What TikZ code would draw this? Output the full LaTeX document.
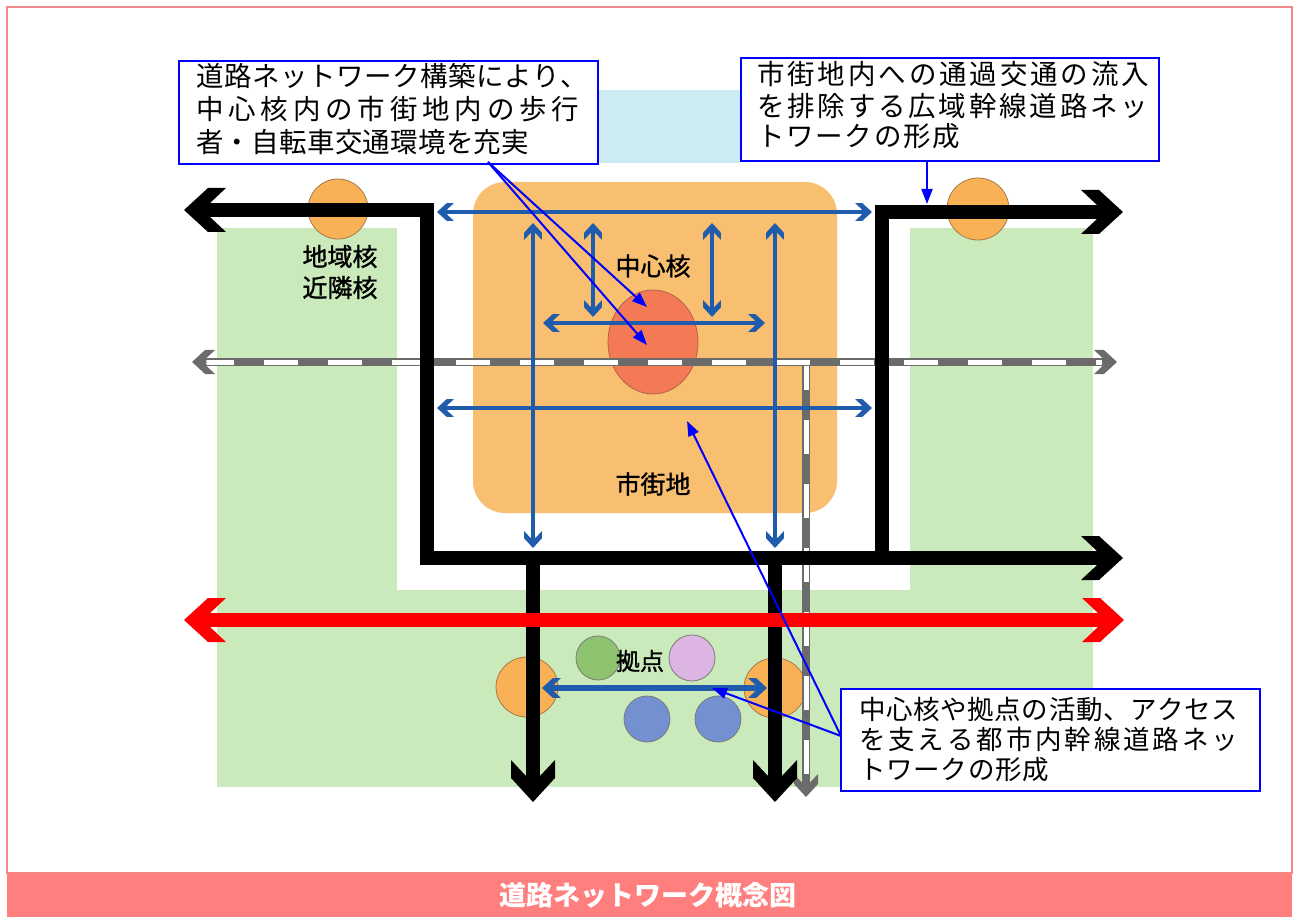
\documentclass[tikz,border=0pt]{standalone}
\usepackage{fontspec}
\setmainfont{Noto Sans CJK JP}
\usetikzlibrary{arrows.meta}
\definecolor{framec}{HTML}{F08A8A}
\definecolor{bandc}{HTML}{FF7F7F}
\definecolor{skyb}{HTML}{CCEBF3}
\definecolor{grn}{HTML}{CBEABB}
\definecolor{orng}{HTML}{F9BF71}
\definecolor{coreR}{HTML}{F47A55}
\definecolor{coreO}{HTML}{B0604A}
\definecolor{nodeO}{HTML}{F8B255}
\definecolor{nodeOl}{HTML}{A87848}
\definecolor{arrB}{HTML}{1F5CAB}
\definecolor{callB}{HTML}{0000FF}
\definecolor{railG}{HTML}{6B6B6B}
\definecolor{cG}{HTML}{8DC36F}
\definecolor{cP}{HTML}{DDB5E2}
\definecolor{cB}{HTML}{7391D0}
\definecolor{smallOl}{HTML}{7A7A7A}
\makeatletter
\def\spreadA#1{#1\spreadB}
\def\spreadB#1{\ifx#1\relax\else\hfil#1\expandafter\spreadB\fi}
\newcommand\jl[2]{\makebox[#1pt][s]{\spreadA#2\relax}}
\makeatother
\newcommand\heavy{\addfontfeature{FakeBold=1.3}}
\tikzset{
  chev/.pic={\fill (0,0)--(-24,-22)--(-42,-22)--(-26,-7)--(-26,7)--(-42,22)--(-24,22)--cycle;},
  cbox/.style={draw=callB, line width=2pt, fill=white, rectangle, inner sep=0pt},
  cline/.style={callB, line width=2pt, -{Triangle[length=15pt,width=11pt]}},
  ctext/.style={anchor=base west, inner sep=0pt},
  lbl/.style={inner sep=0pt, font=\fontsize{25}{31}\selectfont\heavy},
  road/.style={line width=14pt, line join=miter},
  barr/.style={arrB, line width=4pt},
  rail/.style={railG, line width=8pt},
  railw/.style={white, line width=5pt, dash pattern=on 34pt off 30pt},
}
\begin{document}
\begin{tikzpicture}[x=1pt,y=-1pt]
\useasboundingbox (0,0) rectangle (1295,917);
\fill[white] (0,0) rectangle (1295,917);
% frame and caption band
\draw[framec, line width=1.5pt] (7,7) rectangle (1292,873);
\fill[bandc] (7,873) rectangle (1292,917);
\node[text=white, inner sep=0pt, font=\fontsize{27}{30}\selectfont\bfseries] (cap) at (648,895) {道路ネットワーク概念図};
% areas
\fill[skyb] (480,90) rectangle (740,163);
\fill[grn] (217,228) rectangle (1093,787);
\fill[white] (397,200) rectangle (910,590);
\fill[orng, rounded corners=32pt] (473,182) rectangle (837,513);
\draw[coreO, fill=coreR, line width=0.8pt] (653,342) ellipse [x radius=45, y radius=52];
\node[lbl] (chk) at (653,266) {中心核};
\node[lbl] (sgc) at (653,484) {市街地};
\node[lbl, align=center] (chiiki) at (340,272) {地域核\\近隣核};
% node circles
\draw[nodeOl, fill=nodeO, line width=0.8pt] (338,209) circle [radius=30];
\draw[nodeOl, fill=nodeO, line width=0.8pt] (978,209) circle [radius=31];
\draw[nodeOl, fill=nodeO, line width=0.8pt] (527,687) ellipse [x radius=31, y radius=30];
\draw[nodeOl, fill=nodeO, line width=0.8pt] (775,688) ellipse [x radius=31, y radius=30];
% railway
\draw[rail] (200,362) -- (1104,362);
\draw[rail] (806,362) -- (806,786);
\draw[railw] (200,362) -- (1102,362);
\draw[railw, dash phase=10pt] (806,366) -- (806,784);
\pic[railG, scale=0.55, rotate=180] at (192,362) {chev};
\pic[railG, scale=0.55] at (1117,362) {chev};
\pic[railG, scale=0.55, rotate=-90] at (806,797) {chev};
% blue streets
\draw[barr] (447,212) -- (862,212);
\pic[arrB, scale=0.4, rotate=180] at (437,212) {chev};
\pic[arrB, scale=0.4] at (872,212) {chev};
\draw[barr] (553,323) -- (755,323);
\pic[arrB, scale=0.4, rotate=180] at (543,323) {chev};
\pic[arrB, scale=0.4] at (765,323) {chev};
\draw[barr] (447,408) -- (862,408);
\pic[arrB, scale=0.4, rotate=180] at (437,408) {chev};
\pic[arrB, scale=0.4] at (872,408) {chev};
\foreach \xx in {533,775}{
  \draw[barr] (\xx,233) -- (\xx,538);
  \pic[arrB, scale=0.4, rotate=90] at (\xx,223) {chev};
  \pic[arrB, scale=0.4, rotate=-90] at (\xx,548) {chev};
}
\foreach \xx in {593,712}{
  \draw[barr] (\xx,233) -- (\xx,307);
  \pic[arrB, scale=0.4, rotate=90] at (\xx,223) {chev};
  \pic[arrB, scale=0.4, rotate=-90] at (\xx,317) {chev};
}
% black roads
\draw[road] (208,210) -- (427,210) -- (427,558) -- (1099,558);
\pic[black, rotate=180] at (184,210) {chev};
\pic[black] at (1123,558) {chev};
\draw[road] (882,558) -- (882,212) -- (1099,212);
\pic[black] at (1123,212) {chev};
\foreach \xx in {533,775}{
  \draw[road] (\xx,558) -- (\xx,778);
  \pic[black, rotate=-90] at (\xx,802) {chev};
}
% red road
\draw[red, line width=14pt] (208,620) -- (1100,620);
\pic[red, rotate=180] at (184,620) {chev};
\pic[red] at (1124,620) {chev};
% base points
\draw[smallOl, fill=cG, line width=0.8pt] (598,658) circle [radius=22];
\draw[smallOl, fill=cP, line width=0.8pt] (692,658) circle [radius=23];
\draw[smallOl, fill=cB, line width=0.8pt] (647,719) circle [radius=23];
\draw[smallOl, fill=cB, line width=0.8pt] (718,719) circle [radius=23];
\node[lbl, font=\fontsize{24}{28}\selectfont\heavy] (kyoten) at (640,661) {拠点};
\draw[arrB, line width=6pt] (553,688) -- (756,688);
\pic[arrB, scale=0.45, rotate=180] at (542,688) {chev};
\pic[arrB, scale=0.45] at (767,688) {chev};
% callout targets
\coordinate (t1a) at (647,307);
\coordinate (t1b) at (647,345);
\coordinate (t2) at (927,204);
\coordinate (t3a) at (687,421);
\coordinate (t3b) at (712,688);
% callout 1
\node[cbox, anchor=north west, minimum width=419pt, minimum height=103pt] (c1) at (178,60) {};
\node[ctext, font=\fontsize{27.5}{33}\selectfont] (c1a) at (196,87) {\jl{392}{道路ネットワーク構築により、}};
\node[ctext, font=\fontsize{27.5}{33}\selectfont] (c1b) at (196,120) {\jl{383}{中心核内の市街地内の歩行}};
\node[ctext, font=\fontsize{27.5}{33}\selectfont] (c1c) at (196,153) {\jl{333}{者・自転車交通環境を充実}};
\coordinate (o1) at (488,162);
\draw[cline] (o1) -- (t1a);
\draw[cline] (o1) -- (t1b);
% callout 2
\node[cbox, anchor=north west, minimum width=418pt, minimum height=103pt] (c2) at (740,57) {};
\node[ctext, font=\fontsize{27.5}{33}\selectfont] (c2a) at (757,85) {\jl{392}{市街地内への通過交通の流入}};
\node[ctext, font=\fontsize{27.5}{33}\selectfont] (c2b) at (757,117) {\jl{391}{を排除する広域幹線道路ネッ}};
\node[ctext, font=\fontsize{27.5}{33}\selectfont] (c2c) at (757,147) {\jl{203}{トワークの形成}};
\draw[cline] (c2.south -| t2) -- (t2);
% callout 3
\node[cbox, anchor=north west, minimum width=419pt, minimum height=102pt] (c3) at (840,688) {};
\node[ctext, font=\fontsize{26.5}{30}\selectfont] (c3a) at (859,719) {\jl{379}{中心核や拠点の活動、アクセス}};
\node[ctext, font=\fontsize{26.5}{30}\selectfont] (c3b) at (859,749) {\jl{379}{を支える都市内幹線道路ネッ}};
\node[ctext, font=\fontsize{26.5}{30}\selectfont] (c3c) at (859,779) {\jl{190}{トワークの形成}};
\coordinate (o3) at (841,736);
\draw[cline] (o3) -- (t3a);
\draw[cline] (o3) -- (t3b);
\end{tikzpicture}
\end{document}
